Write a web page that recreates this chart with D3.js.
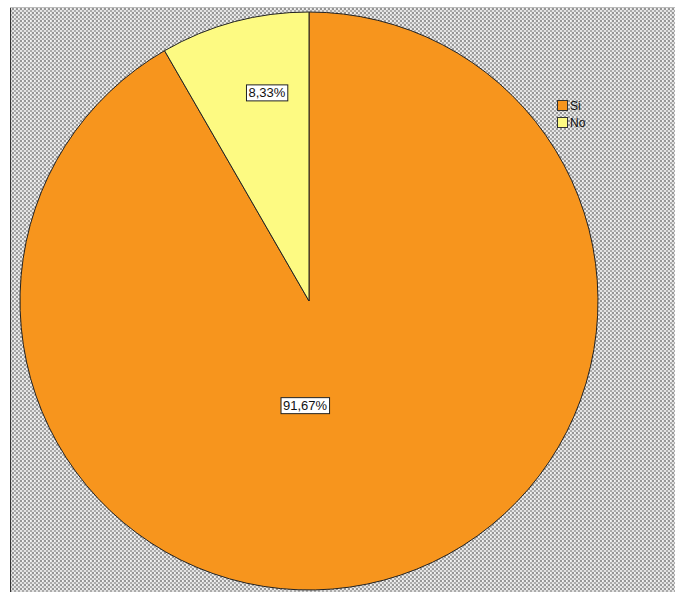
<!DOCTYPE html>
<html>
<head>
<meta charset="utf-8">
<script src="https://cdn.jsdelivr.net/npm/d3@7/dist/d3.min.js"></script>
<style>
html,body{margin:0;padding:0;background:#fff;}
svg{display:block;}
text{font-family:Arial,"Liberation Sans",sans-serif;}
</style>
</head>
<body>
<svg id="chart" width="675" height="592"></svg>
<script>
const categories = ["Si", "No"];
const values = [91.67, 8.33];
const labels = ["91,67%", "8,33%"];
const colors = ["#f7951d", "#fdfa82"];

const svg = d3.select("#chart");
const W = 675, H = 592;

// background hatch pattern
const defs = svg.append("defs");
const pat = defs.append("pattern").attr("id","bg").attr("patternUnits","userSpaceOnUse")
  .attr("width",4).attr("height",4);
pat.append("rect").attr("width",4).attr("height",4).attr("fill","#e2e2e2");
pat.append("rect").attr("x",0).attr("y",0).attr("width",2).attr("height",2).attr("fill","#969696");
pat.append("rect").attr("x",2).attr("y",2).attr("width",2).attr("height",2).attr("fill","#ababab");
pat.append("rect").attr("x",2).attr("y",0).attr("width",1).attr("height",2).attr("fill","#f2f2f2");

svg.append("rect").attr("x",10).attr("y",7).attr("width",W-10).attr("height",H-7).attr("fill","url(#bg)");
svg.append("line").attr("x1",10.5).attr("x2",10.5).attr("y1",7).attr("y2",H).attr("stroke","#333").attr("stroke-width",1);
svg.append("line").attr("x1",10).attr("x2",W).attr("y1",7.5).attr("y2",7.5).attr("stroke","#bbb").attr("stroke-width",1);

const cx = 309, cy = 301, R = 289;
const g = svg.append("g").attr("transform",`translate(${cx},${cy})`);

const pie = d3.pie().sort(null).value(d => d.v)
  .startAngle(0).endAngle(2*Math.PI);
const data = categories.map((c,i)=>({c, v: values[i], label: labels[i], color: colors[i]}));
const arcs = pie(data);
const arc = d3.arc().innerRadius(0).outerRadius(R);

g.selectAll("path.slice").data(arcs).join("path")
  .attr("class","slice")
  .attr("d", arc)
  .attr("fill", d => d.data.color)
  .attr("stroke","#222").attr("stroke-width",1);

// label placement (polar: fraction of radius, angle fraction within slice)
const labelPlace = { "Si": {r: 0.36, a: 0.552}, "No": {r: 0.737, a: 0.62} };
arcs.forEach(d => {
  const p = labelPlace[d.data.c];
  const ang = d.startAngle + (d.endAngle - d.startAngle) * p.a;
  const x = Math.sin(ang) * R * p.r, y = -Math.cos(ang) * R * p.r;
  const lg = g.append("g").attr("transform",`translate(${x},${y})`);
  const t = lg.append("text").attr("text-anchor","middle").attr("dy","0.36em")
    .attr("font-size",13).attr("fill","#111").text(d.data.label);
  const bb = t.node().getBBox();
  lg.insert("rect","text").attr("x",bb.x-2).attr("y",bb.y).attr("width",bb.width+4).attr("height",bb.height+1)
    .attr("fill","#fff").attr("stroke","#222").attr("stroke-width",1);
});

// legend
const leg = svg.append("g").attr("transform","translate(557,100)");
data.forEach((d,i)=>{
  const r = leg.append("g").attr("transform",`translate(0,${i*17})`);
  r.append("rect").attr("x",0.5).attr("y",0.5).attr("width",10).attr("height",10)
    .attr("fill",d.color).attr("stroke","#333").attr("stroke-width",1);
  r.append("text").attr("x",13).attr("y",10).attr("font-size",12).attr("fill","#111").text(d.c);
});
</script>
</body>
</html>
